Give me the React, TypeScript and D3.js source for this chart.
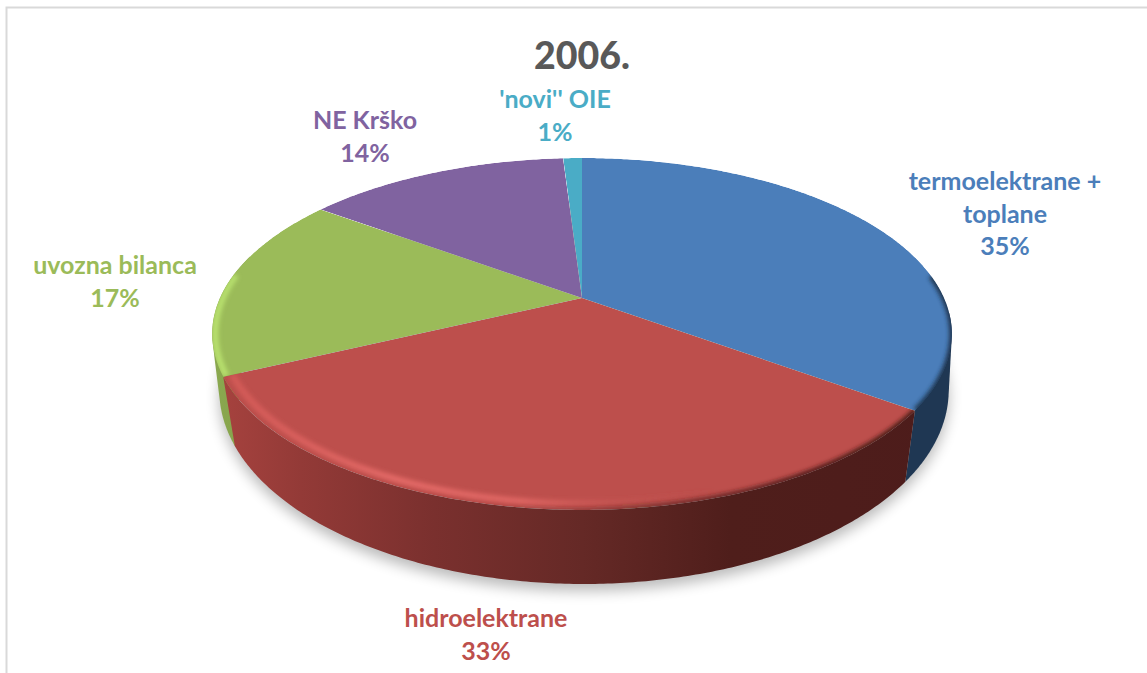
import React from "react";
import * as d3 from "d3";

const categories = ["termoelektrane +\ntoplane", "hidroelektrane", "uvozna bilanca", "NE Krško", "'novi'' OIE"];
const shares = [35, 33, 17, 14, 1];
const colors = ["#4b7eba", "#bd4f4c", "#9bbb59", "#8063a0", "#4aacc6"];
const title = "2006.";

// layout, separate from the data
const W = 1147, H = 673;
const FONT = "Lato, Carlito, 'Open Sans', sans-serif";
const labelAnchors: [number, number][] = [[1005, 190], [486, 627], [115, 274], [365, 129], [555, 108]];
const lineH = 32.5;

const K = 0.2045;
const topDisc = { cx: 582, cy: 298, R: 362, A: 168.6 };
const baseDisc = { cx: 584, cy: 350.4, R: 357, A: 185.8 };

type Disc = typeof topDisc;
const project = (d: Disc, a: number, s = 1): [number, number] => {
  const u = Math.sin(a) * s, v = -Math.cos(a) * s;
  const w = 1 - K * v;
  return [d.cx + (d.R * u) / w, d.cy + (d.A * v) / w];
};
const baseAngle = (a: number) => Math.PI + (a - Math.PI) * 0.96;

const samples = (a0: number, a1: number) => {
  const n = Math.max(2, Math.ceil(Math.abs(a1 - a0) / 0.01));
  return d3.range(n + 1).map((i) => a0 + ((a1 - a0) * i) / n);
};
const line = d3.line<[number, number]>().x((p) => p[0]).y((p) => p[1]);

const arcs = d3.pie<number>().sort(null).value((d) => d)(shares);
const rad = (deg: number) => (deg * Math.PI) / 180;

const sector = (a0: number, a1: number) =>
  line([[topDisc.cx, topDisc.cy], ...samples(a0, a1).map((a) => project(topDisc, a))])! + "Z";
const rim = (a0: number, a1: number, s: number) => line(samples(a0, a1).map((a) => project(topDisc, a, s)))!;
const wallPoints = (a0: number, a1: number): [number, number][] => [
  ...samples(a0, a1).map((a) => project(topDisc, a)),
  ...samples(a1, a0).map((a) => project(baseDisc, baseAngle(a))),
];
const wall = (a0: number, a1: number) => line(wallPoints(a0, a1))! + "Z";
const wallHull = (a0: number, a1: number) => line(d3.polygonHull(wallPoints(a0, a1))!)! + "Z";
const basePath = line(samples(0, Math.PI * 2).map((a) => project(baseDisc, a)))! + "Z";

const xGrad = (id: string, stops: [number, string, number?][]) => (
  <linearGradient id={id} gradientUnits="userSpaceOnUse" x1={212} x2={953} y1={0} y2={0}>
    {stops.map(([o, c, op], i) => (
      <stop key={i} offset={o} stopColor={c} stopOpacity={op ?? 1} />
    ))}
  </linearGradient>
);

export default function App() {
  return (
    <div style={{ position: "fixed", left: 0, top: 0 }}>
      <svg width={W} height={H} viewBox={`0 0 ${W} ${H}`} style={{ display: "block", background: "#fff" }}>
        <defs>
          <filter id="shadow" filterUnits="userSpaceOnUse" x={0} y={0} width={W} height={H}>
            <feGaussianBlur stdDeviation={7} />
          </filter>
          <filter id="soft" filterUnits="userSpaceOnUse" x={0} y={0} width={W} height={H}>
            <feGaussianBlur stdDeviation={2.2} />
          </filter>
          {xGrad("wallRed", [
            [0, "#a8433f"], [0.12, "#933a37"], [0.3, "#7a302e"], [0.5, "#652926"],
            [0.7, "#4f1e1b"], [1, "#4d1c1b"],
          ])}
          {xGrad("wallBlue", [[0, "#1f3753"], [1, "#1f3753"]])}
          {xGrad("wallGreen", [[0, "#8aa84f"], [0.05, "#86a34c"], [1, "#86a34c"]])}
          {xGrad("hiRed", [
            [0, "#d85c59", 0.7], [0.25, "#e96d6a", 0.85], [0.42, "#e66a67", 0.8], [0.55, "#cf5b58", 0.4], [0.68, "#c0504d", 0], [1, "#c0504d", 0],
          ])}
          {xGrad("hiGreen", [[0, "#b9e26f", 1], [0.04, "#b9e26f", 0.9]])}
          {xGrad("edgeRed", [
            [0, "#7a2f2c", 0], [0.4, "#5a2220", 0.1], [0.6, "#4f1d1b", 0.55], [0.8, "#4a1b19", 0.9], [1, "#471a18", 1],
          ])}
          {xGrad("edgeBlue", [[0.75, "#1b3048", 0.55], [1, "#1b3048", 0.95]])}
          {arcs.map((a, i) => (
            <clipPath key={i} id={`slice${i}`}>
              <path d={sector(a.startAngle, a.endAngle)} />
            </clipPath>
          ))}
        </defs>

        <rect x={6.5} y={7.5} width={W + 20} height={H + 20} fill="none" stroke="#d9d9d9" strokeWidth={2} />

        <path d={basePath} transform="translate(0,7)" fill="#000" opacity={0.27} filter="url(#shadow)" />

        <path d={wallHull(rad(95), arcs[0].endAngle)} fill="url(#wallBlue)" />
        <path d={wallHull(arcs[2].startAngle, rad(285))} fill="url(#wallGreen)" />
        <path d={wall(arcs[1].startAngle, arcs[1].endAngle)} fill="url(#wallRed)" />

        {arcs.map((a, i) => (
          <g key={i} clipPath={`url(#slice${i})`}>
            <path d={sector(a.startAngle, a.endAngle)} fill={colors[i]} />
            {i === 1 && (
              <>
                <path d={rim(a.startAngle, a.endAngle, 0.977)} fill="none" stroke="url(#hiRed)" strokeWidth={7} filter="url(#soft)" />
                <path d={rim(a.startAngle, a.endAngle, 1.005)} fill="none" stroke="url(#edgeRed)" strokeWidth={9} filter="url(#soft)" />
              </>
            )}
            {i === 0 && (
              <path d={rim(rad(82), a.endAngle, 1.005)} fill="none" stroke="url(#edgeBlue)" strokeWidth={9} filter="url(#soft)" />
            )}
            {i === 2 && (
              <path d={rim(a.startAngle, rad(278), 0.992)} fill="none" stroke="url(#hiGreen)" strokeWidth={6} filter="url(#soft)" />
            )}
          </g>
        ))}

        <text x={582} y={69} textAnchor="middle" fontFamily={FONT} fontWeight={900} fontSize={37.5} fill="#595959">
          {title}
        </text>

        {categories.map((c, i) => {
          const [x, y] = labelAnchors[i];
          const lines = [...c.split("\n"), `${shares[i]}%`];
          return (
            <text key={i} textAnchor="middle" fontFamily={FONT} fontWeight={700} fontSize={25} fill={colors[i]}>
              {lines.map((l, j) => (
                <tspan key={j} x={x} y={y + j * lineH}>
                  {l}
                </tspan>
              ))}
            </text>
          );
        })}
      </svg>
    </div>
  );
}
